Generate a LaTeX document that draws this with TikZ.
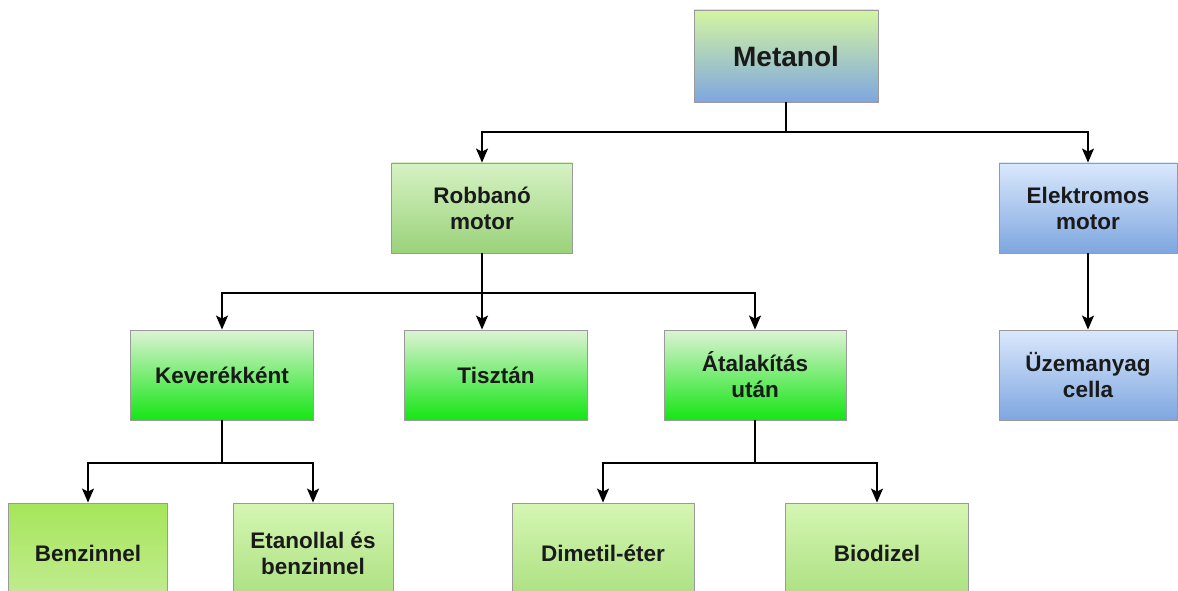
\documentclass[tikz,border=0pt]{standalone}
\usepackage{fontspec}
\setmainfont{Liberation Sans}
\usepackage{tikz}
\usetikzlibrary{arrows.meta}

\definecolor{boxgray}{HTML}{9A9A9A}
\definecolor{txtdark}{HTML}{1A1A1A}
\definecolor{lightgreen}{HTML}{D6F2C4}
\definecolor{midgreen}{HTML}{9AD27A}
\definecolor{palegreen}{HTML}{DDF3D4}
\definecolor{brightgreen}{HTML}{14E614}
\definecolor{limegreen}{HTML}{A6E65A}
\definecolor{limepale}{HTML}{C3EC95}
\definecolor{leafgreen}{HTML}{D4F6B2}
\definecolor{leafmid}{HTML}{AADF7E}
\definecolor{skyblue}{HTML}{DAE8FC}
\definecolor{steelblue}{HTML}{7EA6E0}
\definecolor{topyellow}{HTML}{D4F5A0}

\tikzset{
  box/.style={draw=boxgray, line width=0.9pt, align=center, text=txtdark,
    minimum height=90pt, inner sep=2pt,
    font=\bfseries\fontsize{22.5}{26}\selectfont},
  rootbox/.style={box, top color=topyellow, bottom color=steelblue,
    minimum width=184pt, minimum height=92pt,
    font=\bfseries\fontsize{28}{32}\selectfont},
  enginebox/.style={box, top color=lightgreen, bottom color=midgreen},
  modebox/.style={box, top color=palegreen, bottom color=brightgreen},
  fuelbox/.style={box, top color=leafgreen, bottom color=leafmid, minimum height=100pt},
  blendbox/.style={box, top color=limegreen, bottom color=limepale, minimum height=100pt},
  elecbox/.style={box, top color=skyblue, bottom color=steelblue},
  arr/.style={line width=1.3pt, -{Stealth[length=14pt,width=12pt,inset=3pt]}},
  bus/.style={line width=1.3pt}
}

\begin{document}
\begin{tikzpicture}[x=1pt,y=-1pt]

\def\ybusa{132}
  \def\ybusb{293}
  \def\ybusc{463}

\useasboundingbox (0,0) rectangle (1178,591);

% top
\node[rootbox] (metanol) at (786,56) {Metanol};

% level 1
\node[enginebox, minimum width=181pt] (robbano) at (482,208) {Robbanó\\motor};
\node[elecbox, minimum width=178pt] (elektromos) at (1088,208) {Elektromos\\motor};

% level 2
\node[modebox, minimum width=183pt] (keverek) at (222,375) {Keverékként};
\node[modebox, minimum width=183pt] (tisztan) at (496,375) {Tisztán};
\node[modebox, minimum width=182pt] (atalakitas) at (755,375) {Átalakítás\\után};
\node[elecbox, minimum width=178pt] (uzemanyag) at (1088,375) {Üzemanyag\\cella};

% level 3
\node[blendbox, minimum width=159pt] (benzinnel) at (88,553) {Benzinnel};
\node[fuelbox, minimum width=160pt] (etanollal) at (313,553) {Etanollal és\\benzinnel};
\node[fuelbox, minimum width=182pt] (dimetil) at (603,553) {Dimetil-éter};
\node[fuelbox, minimum width=183pt] (biodizel) at (877,553) {Biodizel};

% connectors
\draw[bus] (metanol.south) -- (metanol.south |- 0,\ybusa);
\foreach \t in {robbano, elektromos}
        \draw[arr] (metanol.south |- 0,\ybusa) -| (\t.north);

\draw[bus] (robbano.south) -- (robbano.south |- 0,\ybusb);
\foreach \t in {keverek, atalakitas}
        \draw[arr] (robbano.south |- 0,\ybusb) -| (\t.north);
\draw[arr] (robbano.south |- 0,\ybusb) -- (robbano.south |- tisztan.north);

\draw[arr] (elektromos.south) -- (uzemanyag.north);

\draw[bus] (keverek.south) -- (keverek.south |- 0,\ybusc);
\foreach \t in {benzinnel, etanollal}
        \draw[arr] (keverek.south |- 0,\ybusc) -| (\t.north);

\draw[bus] (atalakitas.south) -- (atalakitas.south |- 0,\ybusc);
\foreach \t in {dimetil, biodizel}
        \draw[arr] (atalakitas.south |- 0,\ybusc) -| (\t.north);
\end{tikzpicture}
\end{document}
